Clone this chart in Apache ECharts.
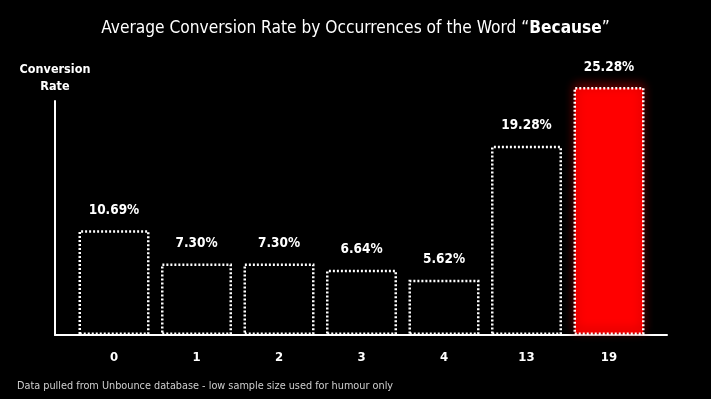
<!DOCTYPE html>
<html>
<head>
<meta charset="utf-8">
<style>
html,body{margin:0;padding:0;background:#000;}
#chart{width:711px;height:399px;}
</style>
<script src="https://cdn.jsdelivr.net/npm/echarts@6/dist/echarts.min.js"></script>
</head>
<body>
<div id="chart"></div>
<script>
const categories = ['0', '1', '2', '3', '4', '13', '19'];
const conversionRates = [10.69, 7.30, 7.30, 6.64, 5.62, 19.28, 25.28];
const highlightIndex = 6;

const FONT = "'DejaVu Sans Condensed', 'Liberation Sans Narrow', 'Roboto', sans-serif";

const chart = echarts.init(document.getElementById('chart'));

const barData = conversionRates.map((v, i) => {
  if (i === highlightIndex) {
    return {
      value: v,
      itemStyle: {
        color: '#ff0000',
        borderColor: '#ffffff',
        borderWidth: 2.5,
        borderType: [2, 2],
        shadowColor: '#700000',
        shadowBlur: 10,
        shadowOffsetY: -3
      }
    };
  }
  return v;
});

chart.setOption({
  backgroundColor: '#000000',
  animation: false,
  title: [
    {
      text: '{n|Average Conversion Rate by Occurrences of the Word “}{b|Because}{n|”}',
      left: 'center',
      top: 15,
      textStyle: {
        rich: {
          n: { fontFamily: FONT, fontSize: 17.2, color: '#ffffff', fontWeight: 'normal' },
          b: { fontFamily: FONT, fontSize: 17.2, color: '#ffffff', fontWeight: 'bold' }
        }
      }
    },
    {
      text: 'Data pulled from Unbounce database - low sample size used for humour only',
      left: 12,
      top: 376,
      textStyle: { fontFamily: FONT, fontSize: 10.8, color: '#cfcfcf', fontWeight: 'normal' }
    }
  ],
  grid: [
    { left: 72.75, right: 60.75, top: 87, bottom: 64 },
    { left: 55, right: 44, top: 101, bottom: 64 }
  ],
  xAxis: [
    {
      type: 'category',
      gridIndex: 0,
      data: categories,
      axisLine: { show: false },
      axisTick: { show: false },
      axisLabel: { color: '#ffffff', fontFamily: FONT, fontSize: 13, fontWeight: 'bold', margin: 16 }
    },
    {
      type: 'category',
      gridIndex: 1,
      data: [''],
      axisLine: { show: true, lineStyle: { color: '#ffffff', width: 2 } },
      axisTick: { show: false },
      axisLabel: { show: false }
    }
  ],
  yAxis: [
    {
      type: 'value',
      gridIndex: 0,
      min: 0,
      max: 25.28,
      show: false
    },
    {
      type: 'value',
      gridIndex: 1,
      min: 0,
      max: 1,
      name: 'Conversion\nRate',
      nameLocation: 'end',
      nameGap: 6,
      nameTextStyle: { color: '#ffffff', fontFamily: FONT, fontSize: 12.5, fontWeight: 'bold', align: 'center', lineHeight: 17 },
      axisLine: { show: true, lineStyle: { color: '#ffffff', width: 2 } },
      axisTick: { show: false },
      axisLabel: { show: false },
      splitLine: { show: false }
    }
  ],
  series: [
    {
      type: 'bar',
      xAxisIndex: 0,
      yAxisIndex: 0,
      data: barData,
      barWidth: 71,
      itemStyle: {
        color: '#000000',
        borderColor: '#ffffff',
        borderWidth: 2.5,
        borderType: [2, 2]
      },
      label: {
        show: true,
        position: 'top',
        distance: 13,
        color: '#ffffff',
        fontFamily: FONT,
        fontSize: 13.5,
        fontWeight: 'bold',
        formatter: p => p.value.toFixed(2) + '%'
      }
    }
  ]
});
</script>
</body>
</html>
